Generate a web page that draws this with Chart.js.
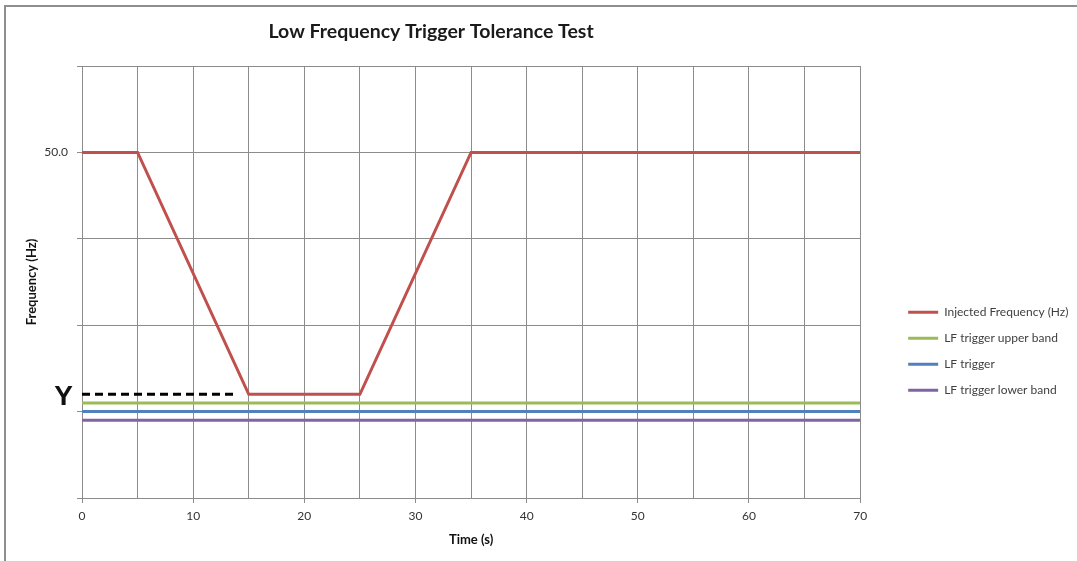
<!DOCTYPE html>
<html>
<head>
<meta charset="utf-8">
<script src="https://cdn.jsdelivr.net/npm/chart.js@4"></script>
<style>
html, body { margin: 0; padding: 0; background: #fff; }
#wrap { position: relative; width: 1077px; height: 561px; overflow: hidden; }
#frame { position: absolute; left: 4px; top: 5px; right: -5px; bottom: -5px; border-left: 2px solid #8f8f8f; border-top: 2px solid #8f8f8f; }
canvas { position: absolute; left: 0; top: 0; }
</style>
</head>
<body>
<div id="wrap"><div id="frame"></div><canvas id="myChart" width="1077" height="561"></canvas></div>
<script>
var chartTitle = 'Low Frequency Trigger Tolerance Test'
var xTitle = 'Time (s)'
var yTitle = 'Frequency (Hz)'
var seriesNames = ['Injected Frequency (Hz)', 'LF trigger upper band', 'LF trigger', 'LF trigger lower band']
var seriesColors = ['#c0504d', '#9bbb59', '#4f81bd', '#8064a2']

// injected frequency profile
var injectedTime = [0, 5, 15, 25, 35, 70]
var injectedFreq = [50, 50, 48.6, 48.6, 50, 50]

// flat trigger lines
var bandTime = [0, 70]
var upperBand = [48.55, 48.55]
var trigger = [48.5, 48.5]
var lowerBand = [48.45, 48.45]

// dashed "Y" marker
var markerTime = [0, 14]
var markerFreq = [48.6, 48.6]
var markerLabel = 'Y'

// only this y tick carries a label
var yLabelled = [50]

function pts(xs, ys) {
	return xs.map(function(x, i) { return {x: x, y: ys[i]} })
}

var gridColor = '#8c8c8c'
Chart.defaults.font.family = 'Lato'

var annotate = {
	id: 'annotate',
	afterDraw: function(chart) {
		var ctx = chart.ctx
		var area = chart.chartArea
		ctx.save()
		ctx.fillStyle = '#1a1a1a'
		ctx.font = 'bold 19.5px Lato'
		ctx.textAlign = 'center'
		ctx.textBaseline = 'middle'
		ctx.fillText(chartTitle, (area.left + area.right) / 2 - 40, 32)
		var y = chart.scales.y.getPixelForValue(markerFreq[0])
		ctx.fillStyle = '#111'
		ctx.font = 'bold 28px "Liberation Sans"'
		ctx.textAlign = 'right'
		ctx.fillText(markerLabel, area.left - 9, y + 3)
		ctx.restore()
	}
}

var datasets = [
	{label: seriesNames[0], data: pts(injectedTime, injectedFreq)},
	{label: seriesNames[1], data: pts(bandTime, upperBand)},
	{label: seriesNames[2], data: pts(bandTime, trigger)},
	{label: seriesNames[3], data: pts(bandTime, lowerBand)}
].map(function(d, i) {
	d.borderColor = seriesColors[i]
	d.backgroundColor = seriesColors[i]
	d.borderWidth = 3
	d.pointRadius = 0
	d.fill = false
	return d
})

datasets.push({
	label: 'marker',
	data: pts(markerTime, markerFreq),
	borderColor: '#000',
	backgroundColor: '#000',
	borderWidth: 3,
	borderDash: [8, 5],
	pointRadius: 0,
	fill: false
})

var myChart = document.getElementById('myChart').getContext('2d')
var chart = new Chart(myChart, {
	type: 'line',
	data: {datasets: datasets},
	plugins: [annotate],
	options: {
		responsive: false,
		animation: false,
		devicePixelRatio: 1,
		layout: {padding: {top: 66, left: 0, right: 4, bottom: 0}},
		plugins: {
			title: {display: false},
			tooltip: {enabled: false},
			legend: {
				position: 'right',
				title: {display: true, text: '', padding: {top: 31, bottom: 30}},
				labels: {
					boxWidth: 30,
					boxHeight: 3,
					padding: 14,
					color: '#404040',
					font: {size: 12},
					filter: function(item) { return item.datasetIndex < 4 },
					generateLabels: function(c) {
						var items = Chart.defaults.plugins.legend.labels.generateLabels(c)
						items.forEach(function(it) { it.lineWidth = 0 })
						return items
					}
				}
			}
		},
		scales: {
			x: {
				type: 'linear',
				min: 0,
				max: 70,
				afterFit: function(s) { s.height = 63 },
				ticks: {
					stepSize: 5,
					autoSkip: false,
					maxRotation: 0,
					padding: 6,
					color: '#333',
					font: {size: 12},
					callback: function(v) { return v % 10 === 0 ? v : '' }
				},
				grid: {
					color: gridColor,
					tickLength: 5,
					tickColor: function(c) { return c.tick && c.tick.value % 10 === 0 ? gridColor : 'rgba(0,0,0,0)' }
				},
				border: {color: gridColor},
				title: {display: true, text: xTitle, color: '#111', font: {size: 13, weight: 'bold'}, padding: {top: 4, bottom: 13}}
			},
			y: {
				type: 'linear',
				min: 48,
				max: 50.5,
				afterFit: function(s) { s.width = 82 },
				ticks: {
					stepSize: 0.5,
					padding: 9,
					color: '#333',
					font: {size: 12},
					callback: function(v) { return yLabelled.indexOf(v) >= 0 ? v.toFixed(1) : '' }
				},
				grid: {color: gridColor, tickLength: 5, tickColor: gridColor},
				border: {color: gridColor},
				title: {display: true, text: yTitle, color: '#111', font: {size: 13, weight: 'bold'}, padding: {top: 24, bottom: 0}}
			},
			gap: {
				position: 'right',
				display: true,
				afterFit: function(s) { s.width = 34 },
				ticks: {display: false},
				grid: {display: false},
				border: {display: false}
			}
		}
	}
})
</script>
</body>
</html>
